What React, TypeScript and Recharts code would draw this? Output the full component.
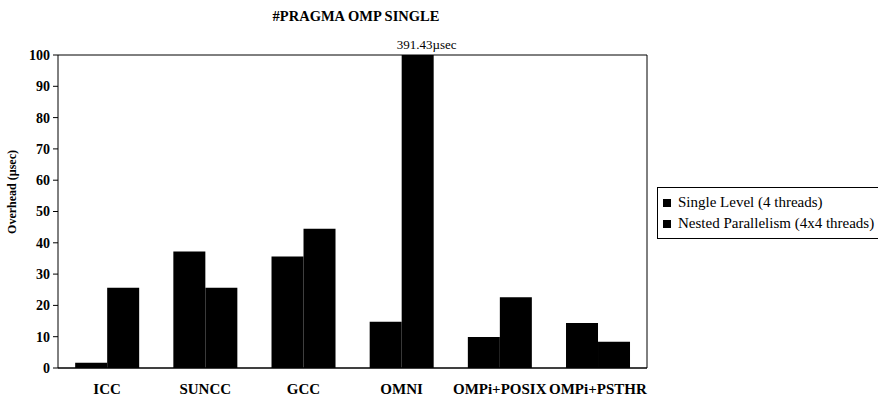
import React from "react";
import {
  BarChart,
  Bar,
  XAxis,
  YAxis,
  CartesianGrid,
  Legend,
  LabelList,
} from "recharts";

const categories = ["ICC", "SUNCC", "GCC", "OMNI", "OMPi+POSIX", "OMPi+PSTHR"];
const singleLevel = [1.7, 37.2, 35.6, 14.8, 9.9, 14.4];
const nested = [25.6, 25.6, 44.5, 391.43, 22.6, 8.4];
const yTicks = [0, 10, 20, 30, 40, 50, 60, 70, 80, 90, 100];
const seriesNames = ["Single Level (4 threads)", "Nested Parallelism (4x4 threads)"];
const Y_MAX = 100;

const data = categories.map((c, i) => ({
  name: c,
  single: singleLevel[i],
  nestedShown: Math.min(nested[i], Y_MAX),
  nestedRaw: nested[i],
}));

const FONT = "Liberation Serif";

const OverflowLabel = (props: any) => {
  const { x, y, width, index } = props;
  const raw = nested[index];
  if (raw <= Y_MAX) return null;
  return (
    <text
      x={x + width / 2 + 9}
      y={y - 6}
      textAnchor="middle"
      style={{ fontFamily: FONT, fontSize: 13 }}
      fill="#000"
    >
      {raw.toFixed(2) + "µsec"}
    </text>
  );
};

const LegendContent = () => (
  <div
    style={{
      border: "1px solid #000",
      background: "#fff",
      padding: "4px 2px 4px 5px",
      fontFamily: FONT,
      fontSize: 15,
      color: "#000",
      width: 222,
      height: 52,
      boxSizing: "border-box",
    }}
  >
    {seriesNames.map((t) => (
      <div key={t} style={{ display: "flex", alignItems: "center", height: 21, whiteSpace: "nowrap" }}>
        <span style={{ display: "inline-block", width: 8, height: 8, background: "#000", marginRight: 7 }} />
        {t}
      </div>
    ))}
  </div>
);

const tickStyle = { fill: "#000", fontFamily: FONT, fontSize: 14, fontWeight: "bold" };
const xTickStyle = { fill: "#000", fontFamily: FONT, fontSize: 15, fontWeight: "bold" };

export default function App() {
  return (
    <div style={{ position: "absolute", left: 0, top: 0, background: "#fff", fontFamily: FONT }}>
      <BarChart
        width={878}
        height={405}
        data={data}
        margin={{ top: 55, right: 230, bottom: 7, left: 0 }}
        barGap={0}
        barCategoryGap="17.5%"
        style={{ fontFamily: FONT }}
      >
        <text
          x={356}
          y={21}
          textAnchor="middle"
          style={{ fontFamily: FONT, fontWeight: "bold", fontSize: 14.5 }}
          fill="#000"
        >
          #PRAGMA OMP SINGLE
        </text>
        <text
          x={0}
          y={0}
          transform="translate(16,192) rotate(-90)"
          textAnchor="middle"
          style={{ fontFamily: FONT, fontWeight: "bold", fontSize: 12 }}
          fill="#000"
        >
          Overhead (µsec)
        </text>
        <CartesianGrid vertical={false} stroke="#000" strokeWidth={1} />
        <XAxis
          dataKey="name"
          interval={0}
          tickLine={false}
          axisLine={{ stroke: "#000" }}
          tickMargin={9}
          tick={xTickStyle}
        />
        <YAxis
          yAxisId="left"
          domain={[0, Y_MAX]}
          ticks={yTicks}
          interval={0}
          width={58}
          axisLine={{ stroke: "#000" }}
          tickLine={{ stroke: "#000" }}
          tickSize={5}
          tickMargin={3}
          tick={tickStyle}
        />
        <YAxis
          yAxisId="right"
          orientation="right"
          domain={[0, Y_MAX]}
          width={1}
          tick={false}
          tickLine={false}
          axisLine={{ stroke: "#000" }}
        />
        <Legend
          layout="vertical"
          align="center"
          verticalAlign="middle"
          content={<LegendContent />}
          wrapperStyle={{ left: 657, top: 187, width: 222 }}
        />
        <Bar yAxisId="left" dataKey="single" name={seriesNames[0]} fill="#000" isAnimationActive={false} />
        <Bar yAxisId="left" dataKey="nestedShown" name={seriesNames[1]} fill="#000" isAnimationActive={false}>
          <LabelList dataKey="nestedRaw" content={<OverflowLabel />} />
        </Bar>
      </BarChart>
    </div>
  );
}
